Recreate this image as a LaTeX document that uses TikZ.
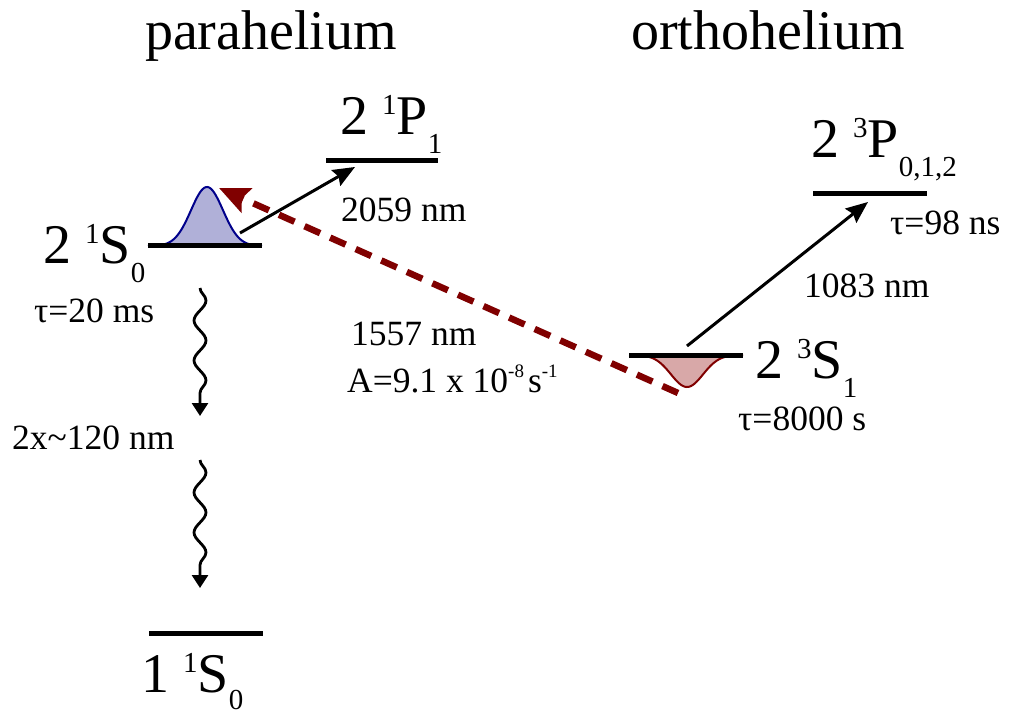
\documentclass[tikz,border=0pt]{standalone}
\usepackage{fontspec}
\setmainfont{Liberation Serif}
\usetikzlibrary{arrows.meta,decorations.pathmorphing}
\definecolor{dred}{RGB}{128,0,0}
\definecolor{dblue}{RGB}{0,0,139}
\definecolor{bfill}{RGB}{176,176,216}
\definecolor{rfill}{RGB}{216,168,168}
\newcommand{\stlab}[4]{#1\ \raisebox{20pt}{\fontsize{29}{29}\selectfont #2}#3\raisebox{-19pt}{\fontsize{29}{29}\selectfont #4}}
\newcommand{\supsm}[1]{\raisebox{15pt}{\fontsize{19}{19}\selectfont #1}}
\begin{document}
\begin{tikzpicture}[x=1pt,y=-1pt,
  levelline/.style={line width=5pt},
  big/.style={font=\fontsize{56}{56}\selectfont, inner sep=0pt, anchor=base west},
  lab/.style={font=\fontsize{35.5}{35.5}\selectfont, inner sep=0pt, anchor=base west},
  title/.style={font=\fontsize{56}{56}\selectfont, inner sep=0pt, anchor=base},
  trans/.style={line width=3pt, -{Stealth[length=22pt,width=18pt,inset=3pt]}},
  forbid/.style={line width=6.5pt, dred, dash pattern=on 17pt off 11pt, -{Stealth[length=30pt,width=26pt,inset=5pt]}},
  decay/.style={line width=2.8pt, -{Triangle[length=13pt,width=16pt]},
    decorate, decoration={snake, amplitude=6pt, segment length=40pt, post length=20pt}}
]
\useasboundingbox (0,0) rectangle (1011,719);

% titles
\node[title] (tpara) at (271,50) {parahelium};
\node[title] (tortho) at (768,50) {orthohelium};

% gaussians
\fill[bfill] plot[domain=148:262, samples=80] (\x,{246-59*exp(-((\x-207)*(\x-207))/(2*16*16))}) -- cycle;
\draw[dblue, line width=2pt] plot[domain=148:262, samples=80] (\x,{246-59*exp(-((\x-207)*(\x-207))/(2*16*16))});
\fill[rfill] plot[domain=629:743, samples=80] (\x,{355+32*exp(-((\x-687)*(\x-687))/(2*16*16))}) -- cycle;
\draw[dred, line width=2pt] plot[domain=629:743, samples=80] (\x,{355+32*exp(-((\x-687)*(\x-687))/(2*16*16))});

% levels
\coordinate (s21a) at (148,246); \coordinate (s21b) at (262,246);
\coordinate (p21a) at (326,161); \coordinate (p21b) at (438,161);
\coordinate (p23a) at (813,194); \coordinate (p23b) at (927,194);
\coordinate (s23a) at (629,355); \coordinate (s23b) at (743,355);
\coordinate (s11a) at (149,633); \coordinate (s11b) at (263,633);
\draw[levelline] (s21a) -- (s21b);
\draw[levelline] (p21a) -- (p21b);
\draw[levelline] (p23a) -- (p23b);
\draw[levelline] (s23a) -- (s23b);
\draw[levelline] (s11a) -- (s11b);

% state labels
\node[big] (l21s) at (43,263) {\stlab{2}{1}{S}{0}};
\node[big] (l21p) at (340,135) {\stlab{2}{1}{P}{1}};
\node[big] (l23p) at (811,158) {\stlab{2}{3}{P}{0,1,2}};
\node[big] (l23s) at (755,378) {\stlab{2}{3}{S}{1}};
\node[big] (l11s) at (141,692) {1\ \raisebox{20pt}{\fontsize{29}{29}\selectfont 1}S\raisebox{-17pt}{\fontsize{29}{29}\selectfont 0}};

% small labels
\node[lab] (tau20) at (34,322) {τ=20 ms};
\node[lab] (w120) at (12,449) {2x\textasciitilde 120 nm};
\node[lab] (w2059) at (341,222) {2059 nm};
\node[lab] (tau98) at (890,235) {τ=98 ns};
\node[lab] (w1083) at (804,297) {1083 nm};
\node[lab] (w1557) at (351,345) {1557 nm};
\node[lab] (arate) at (347,392) {A=9.1 x 10\supsm{-8}\hspace{4pt}s\supsm{-1}};
\node[lab] (tau8000) at (738,430) {τ=8000 s};

% transitions
\coordinate (a1s) at (240,233); \coordinate (a1e) at (355,167);
\draw[trans] (a1s) -- (a1e);
\coordinate (a2s) at (687,346); \coordinate (a2e) at (868,202);
\draw[trans] (a2s) -- (a2e);
\coordinate (fs) at (678,393); \coordinate (fe) at (219,188);
\draw[forbid] (fs) -- (fe);
\coordinate (d1s) at (200,288); \coordinate (d1e) at (200,416);
\coordinate (d2s) at (200,460); \coordinate (d2e) at (200,588);
\draw[decay] (d1s) -- (d1e);
\draw[decay] (d2s) -- (d2e);
\end{tikzpicture}
\end{document}
